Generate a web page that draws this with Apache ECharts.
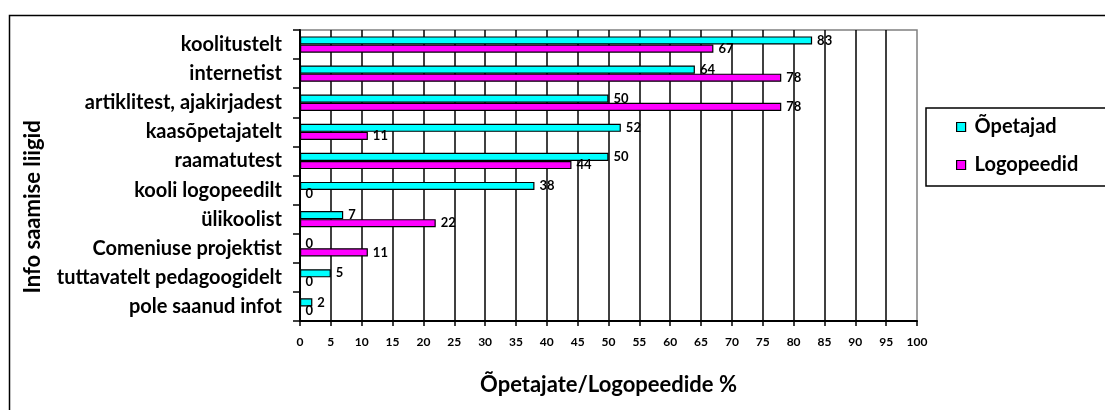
<!DOCTYPE html>
<html>
<head>
<meta charset="utf-8">
<script src="https://cdn.jsdelivr.net/npm/echarts@6/dist/echarts.min.js"></script>
<style>
html,body{margin:0;padding:0;background:#fff;}
#chart{width:1105px;height:410px;}
</style>
</head>
<body>
<div id="chart"></div>
<script>
const categories = ['koolitustelt','internetist','artiklitest, ajakirjadest','kaasõpetajatelt','raamatutest','kooli logopeedilt','ülikoolist','Comeniuse projektist','tuttavatelt pedagoogidelt','pole saanud infot'];
const opetajad = [83,64,50,52,50,38,7,0,5,2];
const logopeedid = [67,78,78,11,44,0,22,11,0,0];
const seriesNames = ['Õpetajad','Logopeedid'];
const xTicks = {min:0, max:100, interval:5};
const yTitle = 'Info saamise liigid';
const xTitle = 'Õpetajate/Logopeedide %';

const FONT = 'Lato';
const chart = echarts.init(document.getElementById('chart'));
const labelStyle = {show:true, position:'right', distance:5, color:'#000', fontFamily:FONT, fontWeight:'bold', fontSize:13};
chart.setOption({
  animation:false,
  graphic:[
    {type:'rect', shape:{x:9.5, y:15.5, width:1200, height:500}, style:{fill:'none', stroke:'#000', lineWidth:1.5}, z:-1},
    {type:'text', x:33, y:207, rotation:Math.PI/2,
     style:{text:yTitle, fill:'#000', font:'bold 22px ' + FONT, textAlign:'center', textVerticalAlign:'middle'}}
  ],
  grid:{left:300, right:188, top:30, bottom:89, show:true, borderColor:'#808080', borderWidth:1.5},
  legend:{
    orient:'vertical', left:926, top:108,
    data:seriesNames,
    borderColor:'#000', borderWidth:1.5,
    padding:[9,200,11,30],
    itemWidth:9, itemHeight:9, itemGap:18, icon:'rect',
    itemStyle:{borderColor:'#000', borderWidth:1.2},
    textStyle:{fontFamily:FONT, fontWeight:'bold', fontSize:20, lineHeight:20, color:'#000', padding:[0,0,0,4]}
  },
  xAxis:{
    type:'value', min:xTicks.min, max:xTicks.max, interval:xTicks.interval,
    name:xTitle, nameLocation:'middle', nameGap:53,
    nameTextStyle:{fontFamily:FONT, fontWeight:'bold', fontSize:22, color:'#000'},
    axisLine:{show:true, lineStyle:{color:'#000', width:2}},
    axisTick:{show:true, length:5, lineStyle:{color:'#000', width:1.5}},
    axisLabel:{fontFamily:FONT, fontWeight:'bold', fontSize:12, color:'#000', margin:15},
    splitLine:{show:true, showMinLine:false, showMaxLine:false, lineStyle:{color:'#000', width:1.5}}
  },
  yAxis:{
    type:'category', data:categories, inverse:true,
    axisLine:{show:true, lineStyle:{color:'#000', width:2}},
    axisTick:{show:true, length:7, lineStyle:{color:'#000', width:1.5}},
    axisLabel:{fontFamily:FONT, fontWeight:'bold', fontSize:20, color:'#000', margin:18},
    splitLine:{show:false}
  },
  series:[
    {name:seriesNames[0], type:'bar', data:opetajad, barGap:'0%', barCategoryGap:'44%',
     itemStyle:{color:'#00FFFF', borderColor:'#000', borderWidth:1.2}, label:labelStyle},
    {name:seriesNames[1], type:'bar', data:logopeedid, barGap:'0%', barCategoryGap:'44%',
     itemStyle:{color:'#FF00FF', borderColor:'#000', borderWidth:1.2}, label:labelStyle}
  ]
});
</script>
</body>
</html>
